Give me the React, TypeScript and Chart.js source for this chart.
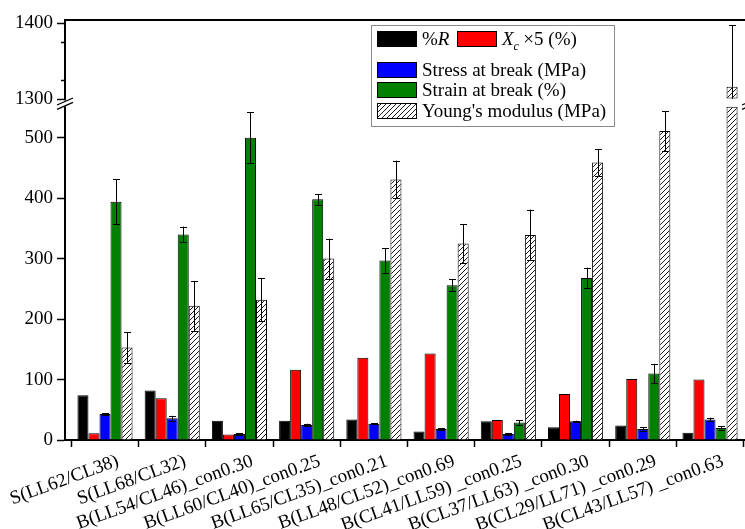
import React, { useEffect, useRef } from 'react';
import { Chart, registerables } from 'chart.js';

Chart.register(...registerables);

// ---------------- data ----------------
const categories = [
  'S(LL62/CL38)',
  'S(LL68/CL32)',
  'B(LL54/CL46)_con0.30',
  'B(LL60/CL40)_con0.25',
  'B(LL65/CL35)_con0.21',
  'B(LL48/CL52)_con0.69',
  'B(CL41/LL59) _con0.25',
  'B(CL37/LL63) _con0.30',
  'B(CL29/LL71) _con0.29',
  'B(CL43/LL57) _con0.63',
];
const ratioR = [74, 82, 32, 32, 34, 14, 31, 21, 24, 12];
const crystallinityX5 = [11, 69, 9, 116, 136, 143, 33, 76, 101, 100];
const stressAtBreak = [43, 36, 10, 25, 27, 18, 10, 31, 18, 34];
const stressErr = [1.5, 4, 1.5, 2, 1, 1.5, 1, 1, 3, 3];
const strainAtBreak = [394, 340, 500, 398, 297, 256, 29, 268, 110, 20];
const strainErr = [37, 13, 42, 9, 20, 10, 4, 17, 16, 3];
const youngsModulus = [153, 222, 232, 300, 431, 325, 339, 459, 511, 1316];
const youngsErr = [25, 41, 36, 33, 31, 32, 42, 22, 33, 81];

// axis break: lower segment 0..BREAK_LOW, upper segment BREAK_HIGH..UPPER_MAX
const LOWER_MAX = 564;
const BREAK_LOW = 551;
const BREAK_HIGH = 1300;
const UPPER_MAX = 1404;
const lowerStep = 100;
const upperStep = 50;
const upperMinorTicks = [1325, 1375];

const FONT = '"Liberation Serif"';

function makeHatch(): CanvasPattern | string {
  const s = 5;
  const c = document.createElement('canvas');
  c.width = s;
  c.height = s;
  const g = c.getContext('2d');
  if (!g) return '#fff';
  g.fillStyle = '#fff';
  g.fillRect(0, 0, s, s);
  g.strokeStyle = '#000';
  g.lineWidth = 0.9;
  g.beginPath();
  g.moveTo(0, s);
  g.lineTo(s, 0);
  g.moveTo(-1, 1);
  g.lineTo(1, -1);
  g.moveTo(s - 1, s + 1);
  g.lineTo(s + 1, s - 1);
  g.stroke();
  return g.createPattern(c, 'repeat') || '#fff';
}

const errorBarsPlugin = {
  id: 'errorBars',
  afterDatasetsDraw(chart: any) {
    const ctx = chart.ctx;
    ctx.save();
    ctx.strokeStyle = '#000';
    ctx.lineWidth = 1;
    chart.data.datasets.forEach((ds: any, di: number) => {
      if (!ds.errors) return;
      const meta = chart.getDatasetMeta(di);
      const scale = chart.scales[meta.yAxisID];
      const lo = scale.min;
      const hi = ds.segmentMax ?? scale.max;
      meta.data.forEach((el: any, i: number) => {
        const v = ds.rawValues[i];
        const e = ds.errors[i];
        if (v == null || e == null) return;
        if (v < lo || v > hi) return;
        const x = Math.round(el.x) + 0.5;
        const top = Math.min(v + e, scale.max);
        const bot = Math.max(v - e, lo);
        const pt = scale.getPixelForValue(top);
        const pb = scale.getPixelForValue(bot);
        ctx.beginPath();
        ctx.moveTo(x, pb);
        ctx.lineTo(x, pt);
        if (v + e <= scale.max) {
          ctx.moveTo(x - 3.5, Math.round(pt) + 0.5);
          ctx.lineTo(x + 3.5, Math.round(pt) + 0.5);
        }
        if (v - e >= lo) {
          ctx.moveTo(x - 3.5, Math.round(pb) + 0.5);
          ctx.lineTo(x + 3.5, Math.round(pb) + 0.5);
        }
        ctx.stroke();
      });
    });
    ctx.restore();
  },
};

const framePlugin = {
  id: 'frameAndBreak',
  afterDraw(chart: any) {
    const ctx = chart.ctx;
    const area = chart.chartArea;
    const yLow = chart.scales.y;
    const yHigh = chart.scales.yTop;
    ctx.save();
    ctx.strokeStyle = '#000';
    ctx.lineWidth = 2;
    ctx.beginPath();
    ctx.moveTo(area.left - 1, area.top);
    ctx.lineTo(area.right, area.top);
    ctx.lineTo(area.right, area.bottom);
    ctx.stroke();

    ctx.lineWidth = 1.5;
    ctx.beginPath();
    upperMinorTicks.forEach((t) => {
      const p = Math.round(yHigh.getPixelForValue(t)) + 0.5;
      ctx.moveTo(area.left - 4, p);
      ctx.lineTo(area.left, p);
    });
    ctx.stroke();

    const pHigh = yHigh.getPixelForValue(BREAK_HIGH);
    const pLow = yLow.getPixelForValue(BREAK_LOW);
    [area.left, area.right].forEach((x) => {
      ctx.fillStyle = '#fff';
      ctx.fillRect(x - 3, pHigh + 1.5, 6, pLow - pHigh - 2);
      ctx.strokeStyle = '#000';
      ctx.lineWidth = 1.3;
      ctx.beginPath();
      [pHigh + 2.5, pLow - 1].forEach((y) => {
        ctx.moveTo(x - 8, y + 3.5);
        ctx.lineTo(x + 8, y - 3.5);
      });
      ctx.stroke();
    });
    ctx.restore();
  },
};

function makeLegendPlugin(hatch: any) {
  return {
    id: 'customLegend',
    afterDraw(chart: any) {
      const ctx = chart.ctx;
      const bx = 371;
      const by = 25;
      const bw = 243;
      const bh = 101;
      ctx.save();
      ctx.fillStyle = '#fff';
      ctx.fillRect(bx, by, bw, bh);
      ctx.strokeStyle = '#8a8a8a';
      ctx.lineWidth = 1;
      ctx.strokeRect(bx + 0.5, by + 0.5, bw, bh);

      const sw = (x: number, y: number, fill: any) => {
        ctx.fillStyle = fill;
        ctx.fillRect(x, y, 40, 16);
        ctx.strokeStyle = '#000';
        ctx.lineWidth = 1;
        ctx.strokeRect(x + 0.5, y + 0.5, 39, 15);
      };
      const reg = `19px ${FONT}`;
      const ital = `italic 19px ${FONT}`;
      ctx.textBaseline = 'alphabetic';
      ctx.textAlign = 'left';

      sw(377, 31, '#000000');
      const base = 45;
      ctx.fillStyle = '#000';
      ctx.font = reg;
      ctx.fillText('%', 422, base);
      let w = ctx.measureText('%').width;
      ctx.font = ital;
      ctx.fillText('R', 422 + w, base);
      sw(457, 31, '#ff0000');
      ctx.fillStyle = '#000';
      ctx.font = ital;
      ctx.fillText('X', 502, base);
      w = ctx.measureText('X').width;
      ctx.font = `italic 12px ${FONT}`;
      ctx.fillText('c', 502 + w, base + 5);
      ctx.font = reg;
      ctx.fillText(' \u00d75 (%)', 502 + w + 5, base);

      const rows: [number, any, string][] = [
        [62, '#0000ff', 'Stress at break (MPa)'],
        [82, '#008000', 'Strain at break (%)'],
        [103, hatch, "Young's modulus (MPa)"],
      ];
      rows.forEach(([y, fill, text]) => {
        sw(377, y, fill);
        ctx.fillStyle = '#000';
        ctx.font = reg;
        ctx.fillText(text, 422, y + 14);
      });
      ctx.restore();
    },
  };
}

export default function App() {
  const ref = useRef<HTMLCanvasElement | null>(null);

  useEffect(() => {
    let chart: Chart | null = null;
    let cancelled = false;

    const build = () => {
      if (cancelled || !ref.current) return;
      Chart.defaults.font.family = FONT;
      Chart.defaults.font.size = 19;
      Chart.defaults.color = '#000';
      const hatch = makeHatch();
      const pts = (arr: (number | null)[]) => arr.map((v, i) => ({ x: i, y: v }));
      const common = { borderColor: '#000', borderWidth: 1, yAxisID: 'y' };

      chart = new Chart(ref.current, {
        type: 'bar',
        data: {
          datasets: [
            { ...common, label: '%R', data: pts(ratioR), backgroundColor: '#000000', stack: 'r' },
            { ...common, label: 'Xc x5 (%)', data: pts(crystallinityX5), backgroundColor: '#ff0000', stack: 'xc' },
            {
              ...common, label: 'Stress at break (MPa)', data: pts(stressAtBreak), backgroundColor: '#0000ff',
              stack: 'stress', errors: stressErr, rawValues: stressAtBreak,
            },
            {
              ...common, label: 'Strain at break (%)', data: pts(strainAtBreak), backgroundColor: '#008000',
              stack: 'strain', errors: strainErr, rawValues: strainAtBreak,
            },
            {
              ...common, label: "Young's modulus (MPa)",
              data: pts(youngsModulus.map((v) => Math.min(v, BREAK_LOW))),
              backgroundColor: hatch, stack: 'young', errors: youngsErr, rawValues: youngsModulus,
              segmentMax: BREAK_LOW, borderSkipped: 'start',
            },
            {
              ...common, yAxisID: 'yTop', label: "Young's modulus (MPa) upper",
              data: pts(youngsModulus.map((v) => (v > BREAK_HIGH ? v : null))),
              backgroundColor: hatch, stack: 'young', base: BREAK_HIGH, borderSkipped: false,
              errors: youngsErr, rawValues: youngsModulus,
            },
          ] as any,
        },
        options: {
          animation: false,
          responsive: true,
          maintainAspectRatio: false,
          layout: { padding: { top: 20, right: 10, left: 0, bottom: 0 } },
          datasets: { bar: { categoryPercentage: 0.82, barPercentage: 1 } } as any,
          plugins: { legend: { display: false }, tooltip: { enabled: false } },
          scales: {
            x: {
              type: 'linear',
              min: -0.595,
              max: 9.595,
              offset: false,
              grid: { display: true, drawOnChartArea: false, drawTicks: true, tickLength: 7, tickWidth: 1.5, tickColor: '#000' },
              border: { display: true, color: '#000', width: 2 },
              ticks: {
                stepSize: 1,
                includeBounds: false,
                autoSkip: false,
                minRotation: 20,
                maxRotation: 20,
                labelOffset: 13,
                padding: 3,
                color: '#000',
                font: { size: 19, family: FONT },
                callback: (v: any) => (Number.isInteger(v) ? categories[v] ?? '' : ''),
              },
              afterFit: (s: any) => {
                s.height = 89;
                s.paddingLeft = 0;
                s.paddingRight = 0;
              },
            } as any,
            y: {
              type: 'linear',
              position: 'left',
              stack: 'v',
              stackWeight: 341,
              weight: 0,
              min: 0,
              max: LOWER_MAX,
              grid: { display: true, drawOnChartArea: false, tickLength: 8, tickWidth: 1.5, tickColor: '#000' },
              border: { display: true, color: '#000', width: 2 },
              ticks: {
                stepSize: lowerStep, includeBounds: false, padding: 4, color: '#000',
                font: { size: 19, family: FONT },
                callback: (v: any) => String(v),
              },
              afterFit: (s: any) => { s.width = 65; },
            } as any,
            yTop: {
              type: 'linear',
              position: 'left',
              stack: 'v',
              stackWeight: 79,
              weight: 1,
              min: BREAK_HIGH,
              max: UPPER_MAX,
              grid: { display: true, drawOnChartArea: false, tickLength: 8, tickWidth: 1.5, tickColor: '#000' },
              border: { display: true, color: '#000', width: 2 },
              ticks: {
                stepSize: upperStep, includeBounds: false, padding: 4, color: '#000',
                font: { size: 19, family: FONT },
                callback: (v: any) => String(v),
              },
              afterFit: (s: any) => { s.width = 65; },
            } as any,
          },
        },
        plugins: [errorBarsPlugin, framePlugin, makeLegendPlugin(hatch)],
      });
    };

    const fonts: any = (document as any).fonts;
    if (fonts && fonts.load) {
      Promise.all([
        fonts.load('19px "Liberation Serif"'),
        fonts.load('italic 19px "Liberation Serif"'),
      ]).then(build, build);
    } else {
      build();
    }
    return () => {
      cancelled = true;
      if (chart) chart.destroy();
    };
  }, []);

  return (
    <div style={{ position: 'fixed', left: 0, top: 0, width: 745, height: 529, overflow: 'hidden', background: '#fff' }}>
      <div style={{ position: 'relative', width: 760, height: 529 }}>
        <canvas ref={ref} />
      </div>
    </div>
  );
}
